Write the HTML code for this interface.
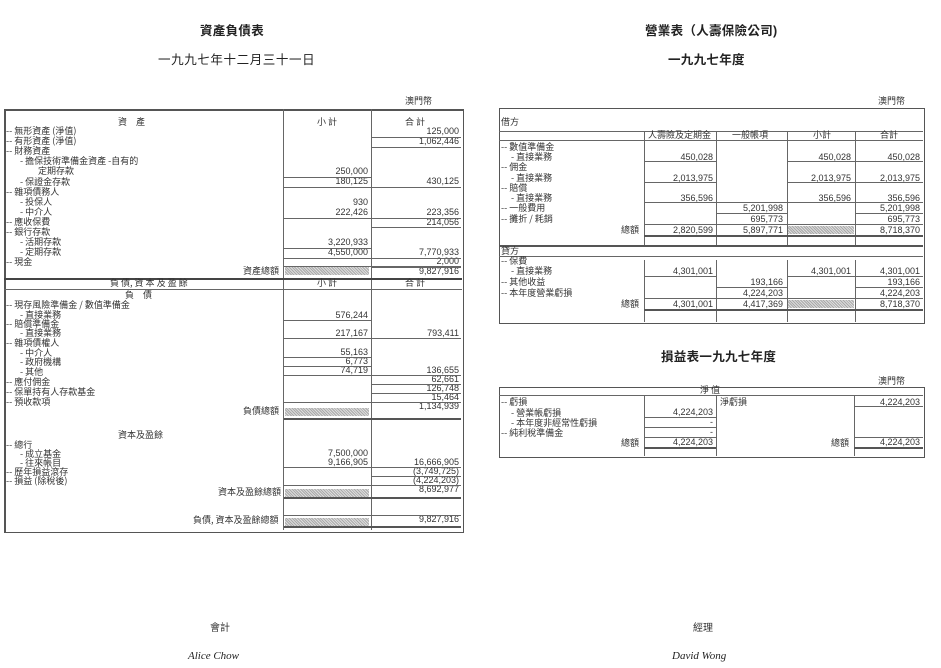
<!DOCTYPE html>
<html><head><meta charset="utf-8">
<style>
body{margin:0;background:#fff;width:941px;height:668px;position:relative;overflow:hidden;font-family:"Liberation Sans","Noto Sans CJK TC",sans-serif;color:#222}
div,span{position:absolute}
.t{font-size:12.5px;font-weight:bold;white-space:nowrap;letter-spacing:0.3px}
.l{font-size:9px;line-height:10px;white-space:nowrap;font-family:"Noto Sans CJK TC","Liberation Sans",sans-serif;color:#333}
.n{font-size:9px;line-height:10px;white-space:nowrap;text-align:right;color:#333}
.h{height:0;border-top:1px solid #666}
.v{width:0;border-left:1px solid #666}
.box{border:1px solid #555}
.sh{background:repeating-linear-gradient(45deg,#aaa 0 1px,#ddd 1px 2px);height:8px}
.ser{font-family:"Liberation Serif",serif;font-style:italic;font-size:11px}
</style></head><body>

<div class="t" style="left:200px;top:20px">資產負債表</div>
<div class="t" style="left:158px;top:49px;font-weight:normal;letter-spacing:0.6px">一九九七年十二月三十一日</div>
<div class="t" style="left:645px;top:20px">營業表（人壽保險公司)</div>
<div class="t" style="left:668px;top:49px">一九九七年度</div>
<div class="t" style="left:661px;top:346px">損益表一九九七年度</div>

<!-- LEFT TABLE -->
<div class="l" style="left:405px;top:96px">澳門幣</div>
<div class="box" style="left:4px;top:109px;width:457px;height:421px;border-width:2px 1px 1px 2px"></div>
<div class="v" style="left:283px;top:109px;height:421px"></div>
<div class="v" style="left:371px;top:109px;height:421px"></div>
<div class="h" style="left:4px;top:278px;width:458px;border-top:2px solid #444"></div>
<div class="h" style="left:4px;top:289px;width:458px"></div>

<div class="l" style="left:118px;top:117px">資　產</div>
<div class="l" style="left:317px;top:117px">小 計</div>
<div class="l" style="left:405px;top:117px">合 計</div>
<div class="l" style="left:6px;top:126px">-- 無形資產 (淨值)</div>
<div class="l" style="left:6px;top:136px">-- 有形資產 (淨值)</div>
<div class="l" style="left:6px;top:146px">-- 財務資產</div>
<div class="l" style="left:20px;top:156px">- 擔保技術準備金資產 -自有的</div>
<div class="l" style="left:38px;top:166px">定期存款</div>
<div class="l" style="left:20px;top:177px">- 保證金存款</div>
<div class="l" style="left:6px;top:187px">-- 雜項債務人</div>
<div class="l" style="left:20px;top:197px">- 投保人</div>
<div class="l" style="left:20px;top:207px">- 中介人</div>
<div class="l" style="left:6px;top:217px">-- 應收保費</div>
<div class="l" style="left:6px;top:227px">-- 銀行存款</div>
<div class="l" style="left:20px;top:237px">- 活期存款</div>
<div class="l" style="left:20px;top:247px">- 定期存款</div>
<div class="l" style="left:6px;top:257px">-- 現金</div>
<div class="l" style="left:243px;top:266px">資產總額</div>

<div class="n" style="right:482px;top:126px">125,000</div>
<div class="n" style="right:482px;top:136px">1,062,446</div>
<div class="n" style="right:573px;top:166px">250,000</div>
<div class="n" style="right:573px;top:176px">180,125</div>
<div class="n" style="right:482px;top:176px">430,125</div>
<div class="n" style="right:573px;top:197px">930</div>
<div class="n" style="right:573px;top:207px">222,426</div>
<div class="n" style="right:482px;top:207px">223,356</div>
<div class="n" style="right:482px;top:217px">214,056</div>
<div class="n" style="right:573px;top:237px">3,220,933</div>
<div class="n" style="right:573px;top:247px">4,550,000</div>
<div class="n" style="right:482px;top:247px">7,770,933</div>
<div class="n" style="right:482px;top:256px">2,000</div>
<div class="n" style="right:482px;top:266px">9,827,916</div>
<div class="sh" style="left:285px;top:267px;width:84px"></div>

<div class="h" style="left:372px;top:137px;width:89px"></div>
<div class="h" style="left:372px;top:147px;width:89px"></div>
<div class="h" style="left:284px;top:177px;width:87px"></div>
<div class="h" style="left:284px;top:187px;width:87px"></div>
<div class="h" style="left:372px;top:187px;width:89px"></div>
<div class="h" style="left:284px;top:218px;width:87px"></div>
<div class="h" style="left:372px;top:218px;width:89px"></div>
<div class="h" style="left:372px;top:227px;width:89px"></div>
<div class="h" style="left:284px;top:248px;width:87px"></div>
<div class="h" style="left:284px;top:258px;width:87px"></div>
<div class="h" style="left:372px;top:258px;width:89px"></div>
<div class="h" style="left:372px;top:267px;width:89px"></div>
<div class="h" style="left:284px;top:266px;width:177px"></div>

<div class="l" style="left:110px;top:278px">負 債, 資 本 及 盈 餘</div>
<div class="l" style="left:317px;top:278px">小 計</div>
<div class="l" style="left:405px;top:278px">合 計</div>
<div class="l" style="left:125px;top:290px">負　債</div>
<div class="l" style="left:6px;top:300px">-- 現存風險準備金 / 數值準備金</div>
<div class="l" style="left:20px;top:310px">- 直接業務</div>
<div class="l" style="left:6px;top:319px">-- 賠償準備金</div>
<div class="l" style="left:20px;top:328px">- 直接業務</div>
<div class="l" style="left:6px;top:338px">-- 雜項債權人</div>
<div class="l" style="left:20px;top:348px">- 中介人</div>
<div class="l" style="left:20px;top:357px">- 政府機構</div>
<div class="l" style="left:20px;top:367px">- 其他</div>
<div class="l" style="left:6px;top:377px">-- 應付佣金</div>
<div class="l" style="left:6px;top:387px">-- 保單持有人存款基金</div>
<div class="l" style="left:6px;top:397px">-- 預收款項</div>
<div class="l" style="left:243px;top:406px">負債總額</div>
<div class="l" style="left:118px;top:430px">資本及盈餘</div>
<div class="l" style="left:6px;top:440px">-- 總行</div>
<div class="l" style="left:20px;top:449px">- 成立基金</div>
<div class="l" style="left:20px;top:458px">- 往來帳目</div>
<div class="l" style="left:6px;top:467px">-- 歷年損益滾存</div>
<div class="l" style="left:6px;top:476px">-- 損益 (除稅後)</div>
<div class="l" style="left:218px;top:487px">資本及盈餘總額</div>
<div class="l" style="left:193px;top:515px">負債, 資本及盈餘總額</div>

<div class="n" style="right:573px;top:310px">576,244</div>
<div class="n" style="right:573px;top:328px">217,167</div>
<div class="n" style="right:482px;top:328px">793,411</div>
<div class="n" style="right:573px;top:347px">55,163</div>
<div class="n" style="right:573px;top:356px">6,773</div>
<div class="n" style="right:573px;top:365px">74,719</div>
<div class="n" style="right:482px;top:365px">136,655</div>
<div class="n" style="right:482px;top:374px">62,661</div>
<div class="n" style="right:482px;top:383px">126,748</div>
<div class="n" style="right:482px;top:392px">15,464</div>
<div class="n" style="right:482px;top:401px">1,134,939</div>
<div class="sh" style="left:285px;top:408px;width:84px"></div>
<div class="n" style="right:573px;top:448px">7,500,000</div>
<div class="n" style="right:573px;top:457px">9,166,905</div>
<div class="n" style="right:482px;top:457px">16,666,905</div>
<div class="n" style="right:482px;top:466px">(3,749,725)</div>
<div class="n" style="right:482px;top:475px">(4,224,203)</div>
<div class="n" style="right:482px;top:484px">8,692,977</div>
<div class="sh" style="left:285px;top:489px;width:84px"></div>
<div class="n" style="right:482px;top:514px">9,827,916</div>
<div class="sh" style="left:285px;top:518px;width:84px"></div>

<div class="h" style="left:284px;top:320px;width:87px"></div>
<div class="h" style="left:284px;top:338px;width:87px"></div>
<div class="h" style="left:372px;top:338px;width:89px"></div>
<div class="h" style="left:284px;top:357px;width:87px"></div>
<div class="h" style="left:284px;top:366px;width:87px"></div>
<div class="h" style="left:284px;top:375px;width:87px"></div>
<div class="h" style="left:372px;top:375px;width:89px"></div>
<div class="h" style="left:372px;top:384px;width:89px"></div>
<div class="h" style="left:372px;top:393px;width:89px"></div>
<div class="h" style="left:284px;top:402px;width:177px"></div>
<div class="h" style="left:284px;top:418px;width:177px;border-top:2px solid #555"></div>
<div class="h" style="left:284px;top:467px;width:87px"></div>
<div class="h" style="left:372px;top:467px;width:89px"></div>
<div class="h" style="left:372px;top:476px;width:89px"></div>
<div class="h" style="left:372px;top:485px;width:89px"></div>
<div class="h" style="left:284px;top:485px;width:87px"></div>
<div class="h" style="left:284px;top:497px;width:177px;border-top:2px solid #555"></div>
<div class="h" style="left:284px;top:515px;width:177px"></div>
<div class="h" style="left:284px;top:526px;width:177px;border-top:2px solid #555"></div>

<!-- RIGHT TABLE 1 -->
<div class="l" style="left:878px;top:96px">澳門幣</div>
<div class="box" style="left:499px;top:108px;width:424px;height:214px"></div>
<div class="h" style="left:499px;top:131px;width:424px"></div>
<div class="h" style="left:499px;top:245px;width:424px;border-top:2px solid #555"></div>
<div class="h" style="left:499px;top:140px;width:424px"></div>
<div class="v" style="left:644px;top:131px;height:114px"></div>
<div class="v" style="left:716px;top:131px;height:114px"></div>
<div class="v" style="left:787px;top:131px;height:114px"></div>
<div class="v" style="left:855px;top:131px;height:114px"></div>
<div class="v" style="left:644px;top:260px;height:62px"></div>
<div class="v" style="left:716px;top:260px;height:62px"></div>
<div class="v" style="left:787px;top:260px;height:62px"></div>
<div class="v" style="left:855px;top:260px;height:62px"></div>
<div class="h" style="left:499px;top:256px;width:424px"></div>

<div class="l" style="left:501px;top:117px">借方</div>
<div class="l" style="left:648px;top:130px">人壽險及定期金</div>
<div class="l" style="left:732px;top:130px">一般帳項</div>
<div class="l" style="left:813px;top:130px">小計</div>
<div class="l" style="left:880px;top:130px">合計</div>
<div class="l" style="left:501px;top:142px">-- 數值準備金</div>
<div class="l" style="left:511px;top:152px">- 直接業務</div>
<div class="l" style="left:501px;top:162px">-- 佣金</div>
<div class="l" style="left:511px;top:173px">- 直接業務</div>
<div class="l" style="left:501px;top:183px">-- 賠償</div>
<div class="l" style="left:511px;top:193px">- 直接業務</div>
<div class="l" style="left:501px;top:203px">-- 一般費用</div>
<div class="l" style="left:501px;top:214px">-- 攤折 / 耗銷</div>
<div class="l" style="left:621px;top:225px">總額</div>

<div class="n" style="right:228px;top:152px">450,028</div>
<div class="n" style="right:90px;top:152px">450,028</div>
<div class="n" style="right:21px;top:152px">450,028</div>
<div class="n" style="right:228px;top:173px">2,013,975</div>
<div class="n" style="right:90px;top:173px">2,013,975</div>
<div class="n" style="right:21px;top:173px">2,013,975</div>
<div class="n" style="right:228px;top:193px">356,596</div>
<div class="n" style="right:90px;top:193px">356,596</div>
<div class="n" style="right:21px;top:193px">356,596</div>
<div class="n" style="right:158px;top:203px">5,201,998</div>
<div class="n" style="right:21px;top:203px">5,201,998</div>
<div class="n" style="right:158px;top:214px">695,773</div>
<div class="n" style="right:21px;top:214px">695,773</div>
<div class="n" style="right:228px;top:225px">2,820,599</div>
<div class="n" style="right:158px;top:225px">5,897,771</div>
<div class="n" style="right:21px;top:225px">8,718,370</div>
<div class="sh" style="left:788px;top:226px;width:66px"></div>

<div class="h" style="left:644px;top:161px;width:72px"></div>
<div class="h" style="left:787px;top:161px;width:136px"></div>
<div class="h" style="left:644px;top:182px;width:72px"></div>
<div class="h" style="left:787px;top:182px;width:136px"></div>
<div class="h" style="left:644px;top:202px;width:279px"></div>
<div class="h" style="left:716px;top:213px;width:71px"></div>
<div class="h" style="left:855px;top:213px;width:68px"></div>
<div class="h" style="left:644px;top:224px;width:279px"></div>
<div class="h" style="left:644px;top:235px;width:279px;border-top:2px solid #555"></div>

<div class="l" style="left:501px;top:246px">貸方</div>
<div class="l" style="left:501px;top:256px">-- 保費</div>
<div class="l" style="left:511px;top:266px">- 直接業務</div>
<div class="l" style="left:501px;top:277px">-- 其他收益</div>
<div class="l" style="left:501px;top:288px">-- 本年度營業虧損</div>
<div class="l" style="left:621px;top:299px">總額</div>
<div class="n" style="right:228px;top:266px">4,301,001</div>
<div class="n" style="right:90px;top:266px">4,301,001</div>
<div class="n" style="right:21px;top:266px">4,301,001</div>
<div class="n" style="right:158px;top:277px">193,166</div>
<div class="n" style="right:21px;top:277px">193,166</div>
<div class="n" style="right:158px;top:288px">4,224,203</div>
<div class="n" style="right:21px;top:288px">4,224,203</div>
<div class="n" style="right:228px;top:299px">4,301,001</div>
<div class="n" style="right:158px;top:299px">4,417,369</div>
<div class="n" style="right:21px;top:299px">8,718,370</div>
<div class="sh" style="left:788px;top:300px;width:66px"></div>
<div class="h" style="left:644px;top:276px;width:72px"></div>
<div class="h" style="left:787px;top:276px;width:136px"></div>
<div class="h" style="left:716px;top:287px;width:71px"></div>
<div class="h" style="left:855px;top:287px;width:68px"></div>
<div class="h" style="left:644px;top:298px;width:279px"></div>
<div class="h" style="left:644px;top:309px;width:279px;border-top:2px solid #555"></div>

<!-- RIGHT TABLE 2 -->
<div class="l" style="left:878px;top:376px">澳門幣</div>
<div class="box" style="left:499px;top:387px;width:424px;height:69px"></div>
<div class="h" style="left:499px;top:395px;width:424px"></div>
<div class="v" style="left:644px;top:395px;height:61px"></div>
<div class="v" style="left:716px;top:395px;height:61px"></div>
<div class="v" style="left:854px;top:395px;height:61px"></div>
<div class="l" style="left:700px;top:385px">淨 值</div>
<div class="l" style="left:501px;top:397px">-- 虧損</div>
<div class="l" style="left:511px;top:408px">- 營業帳虧損</div>
<div class="l" style="left:511px;top:418px">- 本年度非經常性虧損</div>
<div class="l" style="left:501px;top:428px">-- 純利稅準備金</div>
<div class="l" style="left:621px;top:438px">總額</div>
<div class="l" style="left:720px;top:397px">淨虧損</div>
<div class="l" style="left:831px;top:438px">總額</div>
<div class="n" style="right:21px;top:397px">4,224,203</div>
<div class="n" style="right:228px;top:407px">4,224,203</div>
<div class="n" style="right:228px;top:417px">-</div>
<div class="n" style="right:228px;top:427px">-</div>
<div class="n" style="right:228px;top:437px">4,224,203</div>
<div class="n" style="right:21px;top:437px">4,224,203</div>
<div class="h" style="left:854px;top:406px;width:69px"></div>
<div class="h" style="left:644px;top:417px;width:72px"></div>
<div class="h" style="left:644px;top:427px;width:72px"></div>
<div class="h" style="left:644px;top:437px;width:72px"></div>
<div class="h" style="left:644px;top:447px;width:72px;border-top:2px solid #555"></div>
<div class="h" style="left:854px;top:437px;width:69px"></div>
<div class="h" style="left:854px;top:447px;width:69px;border-top:2px solid #555"></div>

<!-- signatures -->
<div class="l" style="left:210px;top:622px;font-size:10px">會計</div>
<div class="ser" style="left:188px;top:650px">Alice Chow</div>
<div class="l" style="left:693px;top:622px;font-size:10px">經理</div>
<div class="ser" style="left:672px;top:650px">David Wong</div>
</body></html>
